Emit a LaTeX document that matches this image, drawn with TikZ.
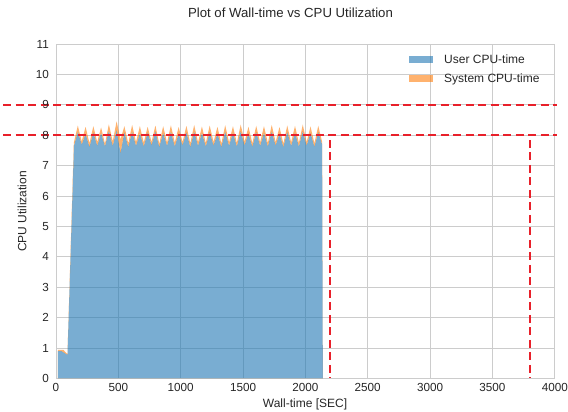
\documentclass[tikz,border=0pt]{standalone}
\usepackage{fontspec}
\setmainfont{Liberation Sans}
\definecolor{userblue}{HTML}{1F77B4}
\definecolor{sysorange}{HTML}{FF7F0E}
\definecolor{gridgray}{HTML}{CCCCCC}
\definecolor{labelgray}{HTML}{262626}
\definecolor{limitred}{HTML}{E8202A}

% spike profile: index / user peak / total peak / user valley / total valley
\newcommand\spikes{0/8.12/8.32/7.70/7.80,1/8.05/8.28/7.62/7.74,2/8.10/8.30/7.66/7.78,%
3/8.08/8.26/7.64/7.72,4/8.15/8.36/7.66/7.80,5/8.18/8.46/7.42/7.86,6/8.10/8.30/7.62/7.74,%
7/8.12/8.34/7.66/7.78,8/8.06/8.30/7.64/7.76,9/8.10/8.28/7.68/7.78,10/8.14/8.32/7.62/7.72,%
11/8.08/8.30/7.66/7.76,12/8.12/8.33/7.64/7.76,13/8.06/8.27/7.68/7.78,14/8.10/8.31/7.62/7.74,%
15/8.13/8.34/7.66/7.77,16/8.08/8.29/7.64/7.75,17/8.11/8.32/7.67/7.78,18/8.06/8.28/7.62/7.73,%
19/8.12/8.33/7.66/7.77,20/8.09/8.30/7.64/7.75,21/8.14/8.35/7.68/7.79,22/8.07/8.28/7.63/7.74,%
23/8.11/8.31/7.66/7.77,24/8.08/8.30/7.64/7.75,25/8.13/8.34/7.67/7.78,26/8.06/8.27/7.62/7.73,%
27/8.12/8.32/7.66/7.77,28/8.09/8.31/7.64/7.75,29/8.14/8.35/7.67/7.78,30/8.08/8.29/7.63/7.74,%
31/8.11/8.31/7.70/7.78}

\newcommand\userpath{(15,0) -- (15,0.90) -- (45,0.90) -- (92,0.78) -- (144,7.66)
  \foreach \k/\bp/\tp/\bv/\tv in \spikes {
    -- ({144+(\k+0.5)*62.2},\bp) -- ({144+(\k+1)*62.2},\bv) }
  -- (2140,0) -- cycle}
\newcommand\totalpath{(15,0) -- (15,0.94) -- (60,0.94) -- (92,0.80) -- (143,7.76)
  \foreach \k/\bp/\tp/\bv/\tv in \spikes {
    -- ({144+(\k+0.5)*62.2},\tp) -- ({144+(\k+1)*62.2},\tv) }
  -- (2140,0) -- cycle}

\tikzset{
  gridline/.style={draw=gridgray, line width=0.9pt},
  limitline/.style={draw=limitred, line width=1.9pt, dash pattern=on 8pt off 4.5pt},
  ticklab/.style={font=\fontsize{11.7}{14}\selectfont, text=labelgray, inner sep=0pt},
  axislab/.style={font=\fontsize{12}{14}\selectfont, text=labelgray, inner sep=0pt},
  legpatch/.style={fill opacity=0.6}
}

\begin{document}
\begin{tikzpicture}[x=1pt, y=1pt]
\useasboundingbox (0,0) rectangle (568,412);

\begin{scope}[shift={(56,33.5)}, x=0.1247pt, y=30.4pt]
  % grid and frame
  \foreach \v in {500,1000,...,3500} \draw[gridline] (\v,0) -- (\v,11);
  \foreach \v in {1,...,10} \draw[gridline] (0,\v) -- (4000,\v);
  \draw[gridline] (0,0) rectangle (4000,11);

  % stacked areas: user time, then system time on top
  \fill[userblue, fill opacity=0.6] \userpath;
  \fill[sysorange, fill opacity=0.6, even odd rule] \totalpath \userpath;

  % limit markers
  \draw[limitline] (-425,9) -- (4018,9);
  \draw[limitline] (-425,8) -- (4018,8);
  \draw[limitline] (2200,7.85) -- (2200,0);
  \draw[limitline] (3800,7.85) -- (3800,0);
\end{scope}

% tick labels
\foreach \v in {0,500,...,4000}
  \node[ticklab, anchor=base] (xt-\v) at ({56+0.1247*\v},20.5) {\v};
\foreach \v in {0,...,11}
  \node[ticklab, anchor=east] (yt-\v) at (49,{33.5+30.4*\v}) {\v};

% titles
\node[font=\fontsize{13.2}{16}\selectfont, text=labelgray, inner sep=0pt, anchor=base]
  (title) at (290.5,394) {Plot of Wall-time vs CPU Utilization};
\node[axislab, anchor=base] (xlabel) at (305,4) {Wall-time [SEC]};
\node[axislab, rotate=90] (ylabel) at (22,200.5) {CPU Utilization};

% legend
\fill[userblue, legpatch] (409,349) rectangle (433,356);
\fill[sysorange, legpatch] (409,330) rectangle (433,337);
\node[axislab, anchor=base west] (leg-user) at (444,348.7) {User CPU-time};
\node[axislab, anchor=base west] (leg-sys) at (444,329.3) {System CPU-time};
\end{tikzpicture}
\end{document}
